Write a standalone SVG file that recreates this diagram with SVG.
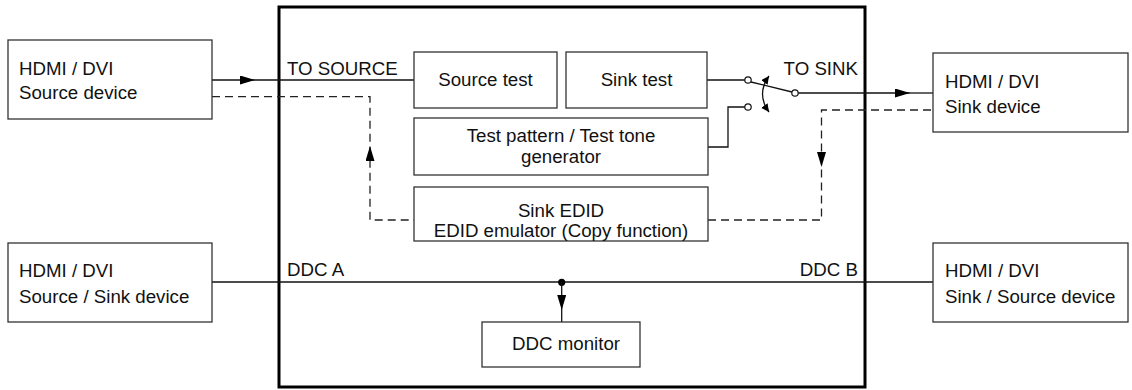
<svg xmlns="http://www.w3.org/2000/svg" width="1132" height="390" viewBox="0 0 1132 390">
<style>
text{font-family:"Liberation Sans",Arial,sans-serif;font-size:18.7px;fill:#111}
.box{fill:#fff;stroke:#333;stroke-width:1.3}
.ln{fill:none;stroke:#111;stroke-width:1.3}
.dash{fill:none;stroke:#222;stroke-width:1.3;stroke-dasharray:8 5}
.main{fill:none;stroke:#000;stroke-width:3}
.c{text-anchor:middle}
.pin{fill:#fff;stroke:#111;stroke-width:1.2}
</style>
<defs>
<marker id="ah" markerUnits="userSpaceOnUse" markerWidth="16" markerHeight="10" refX="15" refY="4.5" orient="auto"><path d="M0 0 L15 4.5 L0 9 Z" fill="#000"/></marker>
<marker id="sm" markerUnits="userSpaceOnUse" markerWidth="10" markerHeight="10" refX="8" refY="4" orient="auto-start-reverse"><path d="M0 0 L8 4 L0 8 Z" fill="#000"/></marker>
</defs>

<g id="main-box"><rect class="main" x="279" y="7" width="586" height="380"/></g>

<g id="connectors">
<path class="ln" d="M212 80 H255" marker-end="url(#ah)"/>
<path class="ln" d="M255 80 H414"/>
<path class="dash" d="M212 96.7 H370 V220 H414"/>
<path class="ln" d="M370 163 V146" marker-end="url(#ah)" style="stroke-dasharray:none;stroke:none"/>
<path class="dash" d="M708 220 H821.5 V110 H933"/>
<path class="ln" d="M821.5 151 V167" marker-end="url(#ah)" style="stroke:none"/>
<path class="ln" d="M707 80 H745"/>
<path class="ln" d="M708 147 H728 V107 H745"/>
<path class="ln" d="M751 82 L792 92"/>
<path class="ln" d="M798 93 H910" marker-end="url(#ah)"/>
<path class="ln" d="M910 93 H933"/>
<path class="ln" d="M769 76 Q756 94 769 112" marker-start="url(#sm)" marker-end="url(#sm)"/>
<circle class="pin" cx="748" cy="80" r="3.2"/>
<circle class="pin" cx="748" cy="107" r="3.2"/>
<circle class="pin" cx="795" cy="93" r="3.2"/>
<path class="ln" d="M212 282 H933"/>
<circle cx="561.7" cy="282.3" r="3.6" fill="#000"/>
<path class="ln" d="M561.7 282 V310" marker-end="url(#ah)"/>
<path class="ln" d="M561.7 310 V322"/>
</g>

<g id="labels">
<text x="287" y="75">TO SOURCE</text>
<text x="858" y="75" text-anchor="end">TO SINK</text>
<text x="287" y="276">DDC A</text>
<text x="858" y="276" text-anchor="end">DDC B</text>
</g>

<g id="src-dev"><rect class="box" x="8" y="40" width="204" height="79"/><text x="19" y="75">HDMI / DVI</text><text x="19" y="99">Source device</text></g>
<g id="srcsink-dev"><rect class="box" x="8" y="243" width="204" height="79"/><text x="19" y="277">HDMI / DVI</text><text x="19" y="302.5">Source / Sink device</text></g>
<g id="sink-dev"><rect class="box" x="933" y="53" width="195" height="79"/><text x="945" y="88">HDMI / DVI</text><text x="945" y="113">Sink device</text></g>
<g id="sinksrc-dev"><rect class="box" x="933" y="243" width="195" height="79"/><text x="945" y="277">HDMI / DVI</text><text x="945" y="302.5">Sink / Source device</text></g>

<g id="source-test"><rect class="box" x="414" y="52" width="143" height="56"/><text class="c" x="485.5" y="86">Source test</text></g>
<g id="sink-test"><rect class="box" x="566" y="52" width="141" height="56"/><text class="c" x="636.5" y="86">Sink test</text></g>
<g id="generator"><rect class="box" x="414" y="118" width="294" height="57"/><text class="c" x="561" y="142">Test pattern / Test tone</text><text class="c" x="561" y="163">generator</text></g>
<g id="edid"><rect class="box" x="414" y="187" width="294" height="54"/><text class="c" x="561" y="217">Sink EDID</text><text class="c" x="561" y="237">EDID emulator (Copy function)</text></g>
<g id="ddc-monitor"><rect class="box" x="482" y="322" width="158" height="45"/><text x="512" y="350">DDC monitor</text></g>
</svg>
